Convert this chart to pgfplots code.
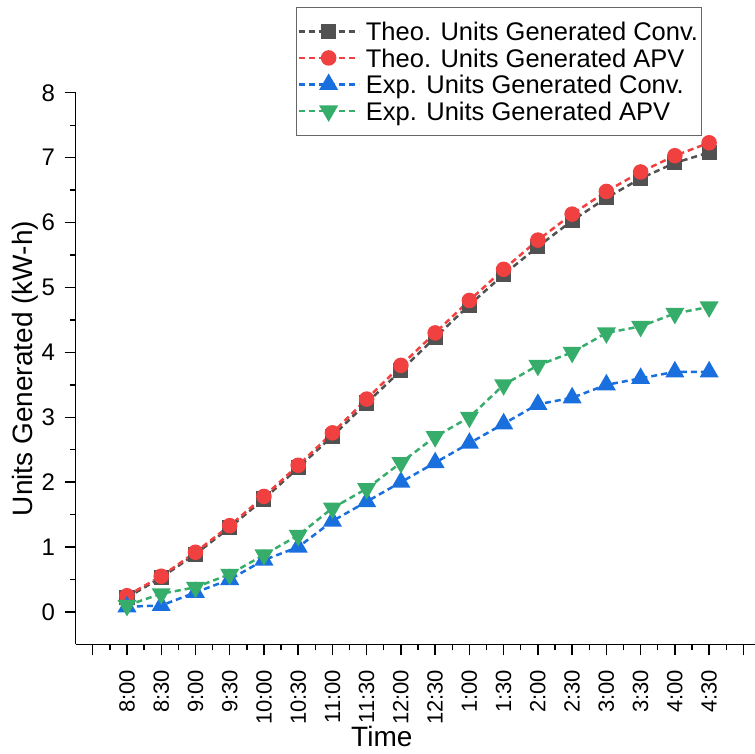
\documentclass[border=0pt]{standalone}
\usepackage{pgfplots}
\pgfplotsset{compat=1.18}
\usepackage{fontspec}
\setmainfont{Liberation Sans}

\definecolor{cgray}{HTML}{515151}
\definecolor{cred}{HTML}{F14040}
\definecolor{cblue}{HTML}{1A6FDF}
\definecolor{cgreen}{HTML}{37AD6B}

% fixed row height for the legend entries
\newcommand{\legrow}{\rule[-9pt]{0pt}{29pt}}

% Units generated over the day (index 0 = 8:00, step 30 min)
\pgfplotstableread{
idx theoconv theoapv expconv expapv
0   0.22  0.25  0.08  0.10
1   0.53  0.55  0.10  0.28
2   0.89  0.92  0.30  0.38
3   1.30  1.33  0.50  0.58
4   1.74  1.78  0.80  0.88
5   2.22  2.26  1.00  1.18
6   2.71  2.76  1.40  1.60
7   3.22  3.28  1.70  1.90
8   3.72  3.80  2.00  2.30
9   4.23  4.30  2.30  2.70
10  4.73  4.80  2.60  3.00
11  5.20  5.28  2.90  3.50
12  5.63  5.73  3.20  3.80
13  6.03  6.13  3.30  4.00
14  6.38  6.48  3.50  4.30
15  6.68  6.78  3.60  4.40
16  6.92  7.03  3.70  4.60
17  7.08  7.23  3.70  4.70
}\datatable

\begin{document}
\begin{tikzpicture}
\begin{axis}[
  name=ax,
  scale only axis,
  width=679.4pt, height=551.6pt,
  xmin=-1.5, xmax=18.34,
  ymin=-0.5, ymax=8,
  axis lines=left,
  axis line style={-, line width=1.6pt},
  tick align=outside,
  major tick length=11pt,
  minor tick length=6pt,
  every tick/.style={black, line width=1.4pt},
  xtick={-1,0,...,18},
  xticklabels={,8:00,8:30,9:00,9:30,10:00,10:30,11:00,11:30,12:00,12:30,1:00,1:30,2:00,2:30,3:00,3:30,4:00,4:30,},
  minor x tick num=1,
  ytick={0,1,...,8},
  minor y tick num=1,
  /pgf/number format/assume math mode=true,
  y tick label style={font=\fontsize{24}{27}\selectfont, xshift=-6pt},
  x tick label style={font=\fontsize{22}{25}\selectfont, rotate=90, anchor=east, xshift=-11pt},
  xlabel={Time},
  ylabel={Units Generated (kW-h)},
  label style={font=\fontsize{28}{32}\selectfont},
  xlabel style={at={(rel axis cs:0.4507,0)}, anchor=base, yshift=-102pt},
  ylabel style={at={(rel axis cs:0,0.5)}, anchor=base, yshift=43pt},
  legend style={at={(0,1)}, anchor=north west, xshift=220.4pt, yshift=86pt,
    draw=gray!80!black, line width=0.8pt,
    font=\fontsize{25.5}{27}\selectfont,
    inner xsep=1pt, inner ysep=11.5pt, row sep=1pt, column sep=4pt,
    cells={anchor=west, inner ysep=0pt}},
  legend image code/.code={%
    \draw[mark repeat=2, mark phase=2, #1] plot coordinates {(0pt,0pt) (30pt,0pt) (60pt,0pt)};},
  every axis plot/.append style={line width=2.5pt, dash pattern=on 6pt off 4pt},
  clip=false,
]
\addplot[cgray, mark=square*, mark size=6.3pt, mark options={solid}] table[x=idx, y=theoconv] {\datatable};
\addlegendentry{\legrow Theo. Units Generated Conv.}
\addplot[cred, mark=*, mark size=6.5pt, mark options={solid}] table[x=idx, y=theoapv] {\datatable};
\addlegendentry{\legrow Theo. Units Generated APV}
\addplot[cblue, mark=triangle*, mark size=8.5pt, mark options={solid}] table[x=idx, y=expconv] {\datatable};
\addlegendentry{\legrow Exp. Units Generated Conv.}
\addplot[cgreen, mark=triangle*, mark size=8.5pt, mark options={solid, rotate=180}] table[x=idx, y=expapv] {\datatable};
\addlegendentry{\legrow Exp. Units Generated APV}
\end{axis}
\pgfresetboundingbox
\path ([shift={(-75.6pt,-109.6pt)}]ax.south west) rectangle ++(755pt,754pt);
\end{tikzpicture}
\end{document}
